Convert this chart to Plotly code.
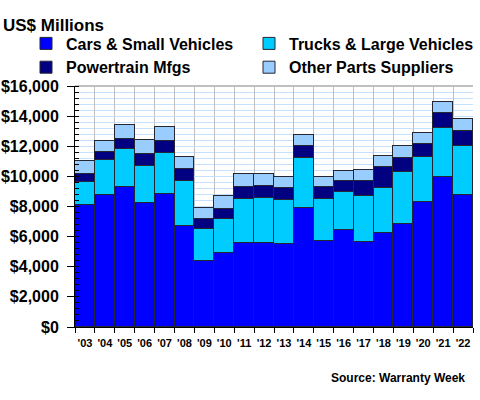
import plotly.graph_objects as go

years = ["'03", "'04", "'05", "'06", "'07", "'08", "'09", "'10", "'11", "'12",
         "'13", "'14", "'15", "'16", "'17", "'18", "'19", "'20", "'21", "'22"]
cars = [8100, 8760, 9290, 8210, 8850, 6690, 4390, 4920, 5560, 5560,
        5520, 7920, 5740, 6420, 5670, 6250, 6820, 8300, 9950, 8740]
trucks = [1500, 2320, 2520, 2450, 2670, 3000, 2120, 2230, 2940, 3020,
          2890, 3310, 2780, 2540, 3010, 3000, 3440, 2960, 3250, 3270]
powertrain = [530, 550, 660, 800, 800, 810, 660, 680, 800, 760,
              800, 800, 760, 710, 1010, 1390, 950, 860, 990, 970]
other = [880, 750, 970, 930, 970, 760, 710, 880, 840, 800,
         750, 750, 700, 700, 730, 690, 780, 730, 780, 800]

series = [
    ("Cars & Small Vehicles", cars, "#0000FF", "legend"),
    ("Trucks & Large Vehicles", trucks, "#00CCFF", "legend2"),
    ("Powertrain Mfgs", powertrain, "#000080", "legend"),
    ("Other Parts Suppliers", other, "#99CCFF", "legend2"),
]

FONT = "Arial, Liberation Sans, sans-serif"

fig = go.Figure()
for name, vals, color, lg in series:
    fig.add_trace(go.Bar(
        x=years, y=vals, name=name, legend=lg,
        marker=dict(color=color, line=dict(color="#262633", width=1)),
    ))

W, H = 480, 400
L, R, T, B = 75, 7, 86, 73
pw = W - L - R
ph = H - T - B

def px_x(x):
    return (x - L) / pw

def px_y(y):
    return (H - B - y) / ph

legend_font = dict(family=FONT, size=16, color="#000000", weight="bold")

fig.update_layout(
    width=W, height=H,
    margin=dict(l=L, r=R, t=T, b=B, autoexpand=False),
    barmode="stack", bargap=0,
    paper_bgcolor="white", plot_bgcolor="white",
    font=dict(family=FONT, color="#000000"),
    title=dict(text="US$ Millions", x=3 / W, xref="container", xanchor="left",
               y=1 - 25 / H, yref="container", yanchor="middle",
               font=dict(family=FONT, size=17, weight="bold", color="#000000")),
    legend=dict(x=px_x(26), y=px_y(26.5), xanchor="left", yanchor="top",
                orientation="v", font=legend_font, tracegroupgap=0,
                traceorder="normal",
                bgcolor="rgba(0,0,0,0)", itemclick=False),
    legend2=dict(x=px_x(249), y=px_y(26.5), xanchor="left", yanchor="top",
                 orientation="v", font=legend_font, tracegroupgap=0,
                 traceorder="normal",
                 bgcolor="rgba(0,0,0,0)", itemclick=False),
    xaxis=dict(type="category", tickson="boundaries", ticks="outside", ticklen=5,
               tickcolor="#000000", showline=True, linecolor="#000000", linewidth=1,
               showgrid=True, gridcolor="#C0C0C0", gridwidth=1,
               ticklabelstandoff=6,
               tickfont=dict(family=FONT, size=11, weight="bold", color="#000000"),
               tickangle=0),
    yaxis=dict(range=[0, 16000], dtick=2000, tickprefix="$", tickformat=",d",
               ticks="outside", ticklen=7, tickcolor="#000000",
               ticklabelstandoff=5,
               showline=True, linecolor="#000000", linewidth=1,
               showgrid=True, gridcolor="#C6E0FF", gridwidth=1, zeroline=False,
               minor=dict(dtick=400, ticks="inside", ticklen=4, tickcolor="#000000",
                          showgrid=True, gridcolor="#C6E0FF", gridwidth=1),
               tickfont=dict(family=FONT, size=16, weight="bold", color="#000000")),
    shapes=[dict(type="line", xref="paper", yref="paper", x0=0, x1=1, y0=1, y1=1,
                 line=dict(color="#C0C0C0", width=2), layer="below")],
    annotations=[dict(text="Source: Warranty Week", xref="paper", yref="paper",
                      x=px_x(467), y=px_y(378), xanchor="right", yanchor="middle",
                      showarrow=False,
                      font=dict(family=FONT, size=12, weight="bold", color="#000000"))],
)

fig.write_html("out.html", config={"displayModeBar": False},
               post_script="document.body.style.margin='0px';")
